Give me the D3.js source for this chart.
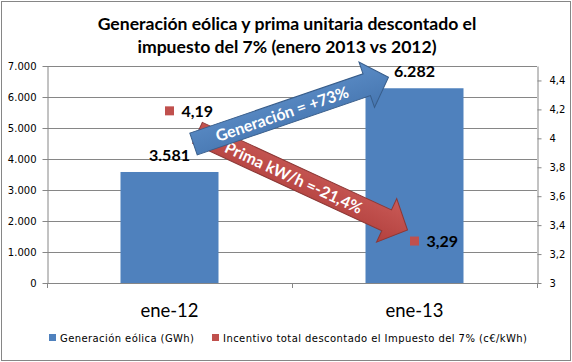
<!DOCTYPE html>
<html>
<head>
<meta charset="utf-8">
<script src="https://cdn.jsdelivr.net/npm/d3@7"></script>
<style>
  body { margin: 0; background: #fff; }
  svg { display: block; }
</style>
</head>
<body>
<div id="chart"></div>
<script>
const categories = ["ene-12", "ene-13"];
const generacion = [3581, 6282];           // GWh
const incentivo = [4.19, 3.29];            // c€/kWh
const leftTicks = [0, 1000, 2000, 3000, 4000, 5000, 6000, 7000];
const rightTicks = [3, 3.2, 3.4, 3.6, 3.8, 4, 4.2, 4.4];
const titleLines = ["Generación eólica y prima unitaria descontado el", "impuesto del 7% (enero 2013 vs 2012)"];
const legendLabels = ["Generación eólica (GWh)", "Incentivo total  descontado el Impuesto del 7% (c€/kWh)"];
const arrowLabels = ["Generación = +73%", "Prima kW/h =-21,4%"];

const W = 572, H = 362;
const plot = { left: 47, right: 537, top: 66, bottom: 283 };
const blue = "#4F81BD", red = "#C0504D", axisGrey = "#868686";
const calibri = "Lato, 'Open Sans', sans-serif";
const verdana = "'DejaVu Sans', Verdana, sans-serif";

const es = d3.formatLocale({ decimal: ",", thousands: ".", grouping: [3], currency: ["", "€"] });
const fmtThousands = es.format(",d");
const fmtDec = d => es.format("~r")(+d.toFixed(2));

const svg = d3.select("#chart").append("svg")
    .attr("width", W)
    .attr("height", H);

const defs = svg.append("defs");
function grad(id, top, bottom) {
    const lg = defs.append("linearGradient").attr("id", id)
        .attr("x1", 0).attr("y1", 0).attr("x2", 0).attr("y2", 1);
    lg.append("stop").attr("offset", "0%").attr("stop-color", top);
    lg.append("stop").attr("offset", "100%").attr("stop-color", bottom);
}
grad("gBlue", "#5b8cc6", "#4676b0");
grad("gRed", "#c95a57", "#b2403d");

// chart frame
svg.append("rect")
    .attr("x", 1.5).attr("y", 1.5)
    .attr("width", W - 3).attr("height", H - 3)
    .attr("fill", "#fff")
    .attr("stroke", axisGrey);

const x = d3.scaleBand()
    .domain(categories)
    .range([plot.left, plot.right])
    .paddingInner(0.6)
    .paddingOuter(0.3);

const yL = d3.scaleLinear().domain([0, 7000]).range([plot.bottom, plot.top]);
const yR = d3.scaleLinear().domain([3, 4.5]).range([plot.bottom, plot.top]);
const cx = c => x(c) + x.bandwidth() / 2;

// gridlines
svg.append("g")
    .selectAll("line")
    .data(leftTicks.slice(1))
    .join("line")
    .attr("x1", plot.left).attr("x2", plot.right)
    .attr("y1", d => Math.round(yL(d)) + 0.5)
    .attr("y2", d => Math.round(yL(d)) + 0.5)
    .attr("stroke", axisGrey);

// bars
svg.append("g")
    .selectAll("rect")
    .data(categories)
    .join("rect")
    .attr("x", d => x(d))
    .attr("y", (d, i) => yL(generacion[i]))
    .attr("width", x.bandwidth())
    .attr("height", (d, i) => yL(0) - yL(generacion[i]))
    .attr("fill", blue);

// axes
function styleAxis(g) {
    g.select(".domain").attr("stroke", axisGrey);
    g.selectAll(".tick line").attr("stroke", axisGrey);
    g.selectAll(".tick text").attr("fill", "#000").style("font-family", verdana).style("font-size", "10px");
}

svg.append("g")
    .attr("transform", `translate(${plot.left + 0.5},0)`)
    .call(d3.axisLeft(yL).tickValues(leftTicks).tickFormat(fmtThousands).tickSize(5).tickSizeOuter(0).tickPadding(6))
    .call(styleAxis);

svg.append("g")
    .attr("transform", `translate(${plot.right + 0.5},0)`)
    .call(d3.axisRight(yR).tickValues(rightTicks).tickFormat(fmtDec).tickSize(4).tickSizeOuter(0).tickPadding(8))
    .call(styleAxis);

// bottom axis: line with ticks at category boundaries
const bottom = svg.append("g");
bottom.append("line")
    .attr("x1", plot.left).attr("x2", plot.right + 1)
    .attr("y1", plot.bottom + 0.5).attr("y2", plot.bottom + 0.5)
    .attr("stroke", axisGrey);
const bounds = [plot.left, ...categories.map(c => x(c) + x.bandwidth() / 2 + x.step() / 2)];
bottom.selectAll(".bt")
    .data(bounds)
    .join("line")
    .attr("x1", d => Math.round(d) + 0.5).attr("x2", d => Math.round(d) + 0.5)
    .attr("y1", plot.bottom).attr("y2", plot.bottom + 5)
    .attr("stroke", axisGrey);
bottom.selectAll("text")
    .data(categories)
    .join("text")
    .attr("x", d => cx(d))
    .attr("y", 317)
    .attr("text-anchor", "middle")
    .style("font-family", calibri)
    .style("font-size", "18.5px")
    .text(d => d);

// bar value labels
svg.append("g")
    .selectAll("text")
    .data(categories)
    .join("text")
    .attr("x", d => cx(d))
    .attr("y", (d, i) => yL(generacion[i]) - 11)
    .attr("text-anchor", "middle")
    .style("font-family", calibri)
    .style("font-weight", "bold")
    .style("font-size", "16px")
    .text((d, i) => fmtThousands(generacion[i]));

// arrows, anchored to the data positions
function arrowPath(x0, y0, x1, y1, shaft, headW, headL) {
    const len = Math.hypot(x1 - x0, y1 - y0);
    const ang = Math.atan2(y1 - y0, x1 - x0) * 180 / Math.PI;
    const s = shaft / 2, h = headW / 2, b = len - headL;
    const d = `M0,${-s}L${b},${-s}L${b},${-h}L${len},0L${b},${h}L${b},${s}L0,${s}Z`;
    return { d, ang, len };
}

function drawArrow(p0, p1, fill, stroke, label, textOffset) {
    const a = arrowPath(p0[0], p0[1], p1[0], p1[1], 23, 48, 23);
    const g = svg.append("g")
        .attr("transform", `translate(${p0[0]},${p0[1]}) rotate(${a.ang})`);
    g.append("path")
        .attr("d", a.d)
        .attr("fill", fill)
        .attr("stroke", stroke)
        .attr("stroke-width", 1);
    g.append("text")
        .attr("x", (a.len - 23) / 2 + textOffset)
        .attr("y", 6)
        .attr("text-anchor", "middle")
        .attr("fill", "#fff")
        .style("font-family", calibri)
        .style("font-weight", "bold")
        .style("font-size", "16px")
        .text(label);
}

// red: from the 2012 incentive point towards the 2013 one
drawArrow(
    [cx(categories[0]) + 28, yR(incentivo[0]) + 22],
    [cx(categories[1]) - 7, yR(incentivo[1]) - 11],
    "url(#gRed)", "#8C3836", arrowLabels[1], 2);

// blue: from the 2012 bar label towards the 2013 one
drawArrow(
    [cx(categories[0]) + 24, yL(generacion[0]) - 28],
    [cx(categories[1]) - 26, yL(generacion[1]) - 11],
    "url(#gBlue)", "#385D8A", arrowLabels[0], 2);

// incentive markers
const markers = svg.append("g");
markers.selectAll("rect")
    .data(categories)
    .join("rect")
    .attr("x", d => cx(d) - 4.5)
    .attr("y", (d, i) => yR(incentivo[i]) - 4.5)
    .attr("width", 9)
    .attr("height", 9)
    .attr("fill", red);
markers.selectAll("text")
    .data(categories)
    .join("text")
    .attr("x", d => cx(d) + 12)
    .attr("y", (d, i) => yR(incentivo[i]) + 6)
    .style("font-family", calibri)
    .style("font-weight", "bold")
    .style("font-size", "16px")
    .text((d, i) => fmtDec(incentivo[i]));

// title
svg.append("g")
    .selectAll("text")
    .data(titleLines)
    .join("text")
    .attr("x", 287)
    .attr("y", (d, i) => 30 + i * 23)
    .attr("text-anchor", "middle")
    .style("font-family", calibri)
    .style("font-weight", "bold")
    .style("font-size", "17.6px")
    .text(d => d);

// legend
const legend = svg.append("g").attr("transform", "translate(0,338)");
const legendX = [49, 212];
const legendWidths = [134, 304];
const legendColors = [blue, red];
legendLabels.forEach((t, i) => {
    legend.append("rect")
        .attr("x", legendX[i]).attr("y", -4)
        .attr("width", 7).attr("height", 7)
        .attr("fill", legendColors[i]);
    legend.append("text")
        .attr("x", legendX[i] + 11)
        .attr("y", 3.5)
        .attr("textLength", legendWidths[i])
        .attr("lengthAdjust", "spacing")
        .style("font-family", verdana)
        .style("font-size", "10px")
        .text(t);
});
</script>
</body>
</html>
